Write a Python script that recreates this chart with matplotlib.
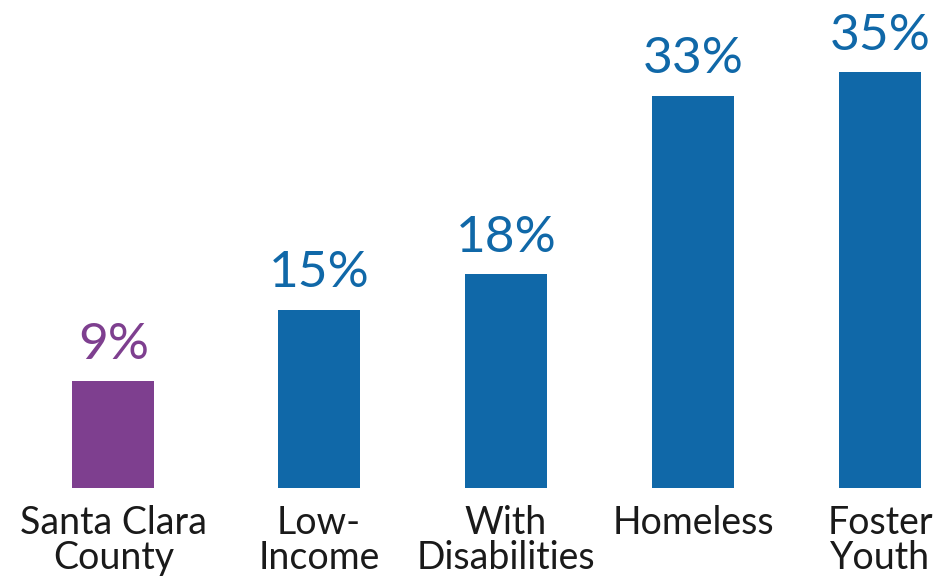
import matplotlib.pyplot as plt
import numpy as np

categories = ["Santa Clara\nCounty", "Low-\nIncome", "With\nDisabilities", "Homeless", "Foster\nYouth"]
values = [9, 15, 18, 33, 35]
value_labels = ["9%", "15%", "18%", "33%", "35%"]

purple = "#7E3F8F"
blue = "#1068A8"
bar_colors = [purple, blue, blue, blue, blue]

plt.rcParams["font.family"] = ["Lato", "DejaVu Sans"]

fig = plt.figure(figsize=(9.43, 5.79), dpi=100)
ax = fig.add_axes([0, 0, 1, 1])

x = np.arange(len(values), dtype=float)
x[0] -= 0.1  # first bar sits a bit further left

ax.bar(x, values, width=0.44, color=bar_colors)

for xi, v, lab, c in zip(x, values, value_labels, bar_colors):
    ax.annotate(lab, (xi, v), xytext=(0, 16), textcoords="offset points",
                ha="center", va="baseline", fontsize=37, fontweight="normal",
                color=c)

for xi, cat in zip(x, categories):
    ax.text(xi, -1.45, cat, ha="center", va="top", fontsize=27,
            color="#1a1a1a", linespacing=0.95)

ax.set_xlim(-0.706, 4.337)
ax.set_ylim(-7.65, 41.04)
ax.axis("off")

fig.savefig("out.png", dpi=100)
